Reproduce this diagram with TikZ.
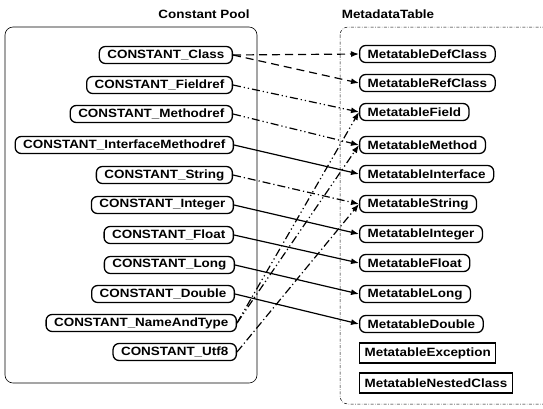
\documentclass[tikz,border=0pt]{standalone}
\usepackage{fontspec}
\newfontfamily\diagfont{Liberation Sans}[FakeStretch=1.12]
\usetikzlibrary{positioning}
\usetikzlibrary{calc}
\usetikzlibrary{arrows.meta}

\begin{document}
\begin{tikzpicture}[x=1pt, y=-1pt, every node/.style={font=\diagfont\bfseries\fontsize{12}{14}\selectfont}]
		% Mapping of constant pool entries onto metadata tables

% Styles
\tikzset{
  cpnode/.style={draw, line width=1.3pt, rounded corners=6pt, minimum height=17pt, inner xsep=8pt, inner ysep=0pt, anchor=east},
  mtnode/.style={draw, line width=1.3pt, rounded corners=6pt, minimum height=17pt, inner xsep=8pt, inner ysep=0pt, anchor=west},
  mtbox/.style={draw, line width=1.2pt, minimum height=20pt, inner xsep=5pt, inner ysep=0pt, anchor=west},
  link/.style={line width=1.2pt, -{Latex[length=8pt,width=6pt]}},
  dashlink/.style={link, dash pattern=on 8pt off 5pt},
  dotlink/.style={link, dash pattern=on 8pt off 3pt on 1.2pt off 3pt},
  ddotlink/.style={link, dash pattern=on 8pt off 3pt on 1.2pt off 3pt on 1.2pt off 3pt}
}

\useasboundingbox (0,0) rectangle (543,408);

% Containers
\draw[line width=0.6pt, rounded corners=8pt] (5,27) rectangle (257,383);
\draw[line width=0.5pt, rounded corners=8pt, dash pattern=on 3pt off 1.5pt on 0.6pt off 1.5pt] (340,27) rectangle (560,404);
\node (cptitle) at (204,14) {Constant Pool};
\node (mttitle) at (388,14) {MetadataTable};

% Constant pool
\node[cpnode] (cclass)  at (233,55)  {CONSTANT\_Class};
\node[cpnode] (cfield)  at (233,85)  {CONSTANT\_Fieldref};
\node[cpnode] (cmeth)   at (233,114) {CONSTANT\_Methodref};
\node[cpnode] (cimeth)  at (234,145) {CONSTANT\_InterfaceMethodref};
\node[cpnode] (cstr)    at (233,175) {CONSTANT\_String};
\node[cpnode] (cint)    at (234,205) {CONSTANT\_Integer};
\node[cpnode] (cfloat)  at (234,235) {CONSTANT\_Float};
\node[cpnode] (clong)   at (235,265) {CONSTANT\_Long};
\node[cpnode] (cdouble) at (235,294) {CONSTANT\_Double};
\node[cpnode] (cnat)    at (237,323) {CONSTANT\_NameAndType};
\node[cpnode] (cutf)    at (237,352) {CONSTANT\_Utf8};

% Metadata tables
\node[mtnode] (mdef)    at (359,54)  {MetatableDefClass};
\node[mtnode] (mref)    at (359,83)  {MetatableRefClass};
\node[mtnode] (mfield)  at (359,112) {MetatableField};
\node[mtnode] (mmeth)   at (359,145) {MetatableMethod};
\node[mtnode] (minter)  at (359,174) {MetatableInterface};
\node[mtnode] (mstr)    at (359,204) {MetatableString};
\node[mtnode] (mint)    at (359,234) {MetatableInteger};
\node[mtnode] (mfloat)  at (359,263) {MetatableFloat};
\node[mtnode] (mlong)   at (359,294) {MetatableLong};
\node[mtnode] (mdouble) at (359,324) {MetatableDouble};
\node[mtbox]  (mexc)    at (359,353) {MetatableException};
\node[mtbox]  (mnest)   at (359,383) {MetatableNestedClass};

% Connections
\draw[dashlink] (cclass.east) -- (mdef.west);
\draw[dashlink] (cclass.east) -- (mref.west);
\draw[ddotlink] (cfield.east) -- (mfield.west);
\draw[ddotlink] (cmeth.east) -- (mmeth.west);
\draw[link] (cimeth.east) -- (minter.west);
\draw[dotlink] (cstr.east) -- (mstr.west);
\draw[link] (cint.east) -- (mint.west);
\draw[link] (cfloat.east) -- (mfloat.west);
\draw[link] (clong.east) -- (mlong.west);
\draw[link] (cdouble.east) -- (mdouble.west);

\draw[ddotlink] (cnat.east) -- (mfield.west);
\draw[ddotlink] (cnat.east) -- (mmeth.west);
\draw[dotlink] (cutf.east) -- (mstr.west);
	\end{tikzpicture}
\end{document}
